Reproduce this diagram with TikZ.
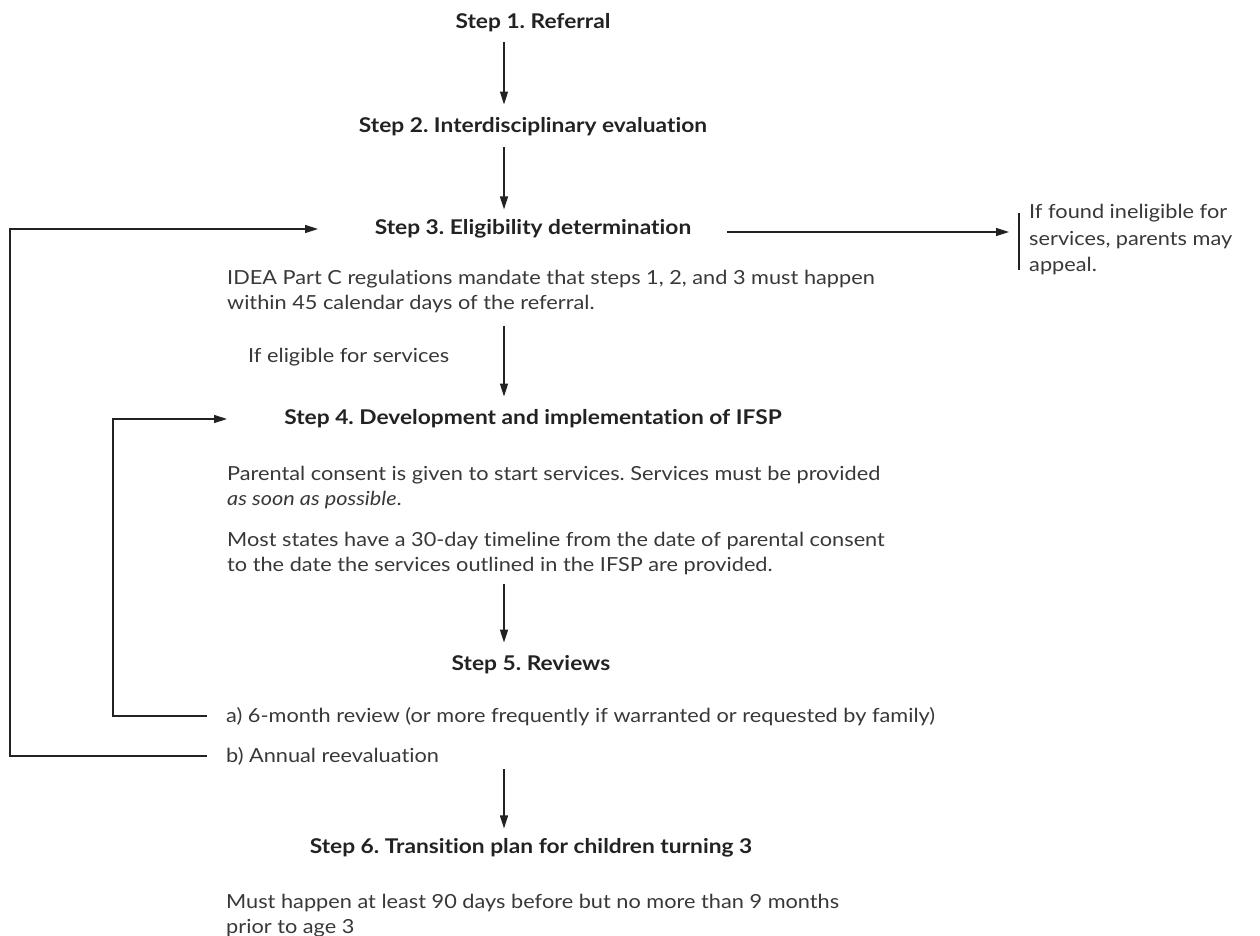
\documentclass[tikz,border=0pt]{standalone}
\usepackage{fontspec}
\setmainfont{Lato}[FakeStretch=1.12, Ligatures=NoCommon]
\usetikzlibrary{arrows.meta}
\definecolor{ink}{HTML}{222222}
\definecolor{bodyink}{HTML}{383838}
\begin{document}
\frenchspacing
\begin{tikzpicture}[x=1pt,y=-1pt,
  head/.style={font=\fontsize{20.3}{24}\selectfont\bfseries, inner sep=0pt, text=ink, anchor=center},
  body/.style={font=\fontsize{19.4}{25}\selectfont, inner sep=0pt, text=bodyink, align=left, anchor=west},
  side/.style={font=\fontsize{19.4}{26.5}\selectfont, inner sep=0pt, text=bodyink, align=left, anchor=west},
  conn/.style={line width=1.4pt, draw=ink, -{Triangle[length=13pt,width=8pt]}},
  plainline/.style={line width=1.4pt, draw=ink}]
\useasboundingbox (0,0) rectangle (1260,936);

% headings
\node[head] (s1) at (533,23) {Step 1. Referral};
\node[head] (s2) at (533,127) {Step 2. Interdisciplinary evaluation};
\node[head] (s3) at (533,229) {Step 3. Eligibility determination};
\node[head] (s4) at (533,419) {Step 4. Development and implementation of IFSP};
\node[head] (s5) at (531,665) {Step 5. Reviews};
\node[head] (s6) at (531,848) {Step 6. Transition plan for children turning 3};

% body texts
\node[body] (idea) at (227,292) {IDEA Part C regulations mandate that steps 1, 2, and 3 must happen\\within 45 calendar days of the referral.};
\node[body] (elig) at (248,357) {If eligible for services};
\node[body] (parent) at (227,488) {Parental consent is given to start services. Services must be provided\\\textit{as soon as possible}.};
\node[body] (most) at (227,554) {Most states have a 30-day timeline from the date of parental consent\\to the date the services outlined in the IFSP are provided.};
\node[body] (reva) at (226,717) {a) 6-month review (or more frequently if warranted or requested by family)};
\node[body] (revb) at (226,756) {b) Annual reevaluation};
\node[body] (must) at (226,916) {Must happen at least 90 days before but no more than 9 months\\prior to age 3};
\node[side] (inel) at (1029,240) {If found ineligible for\\services, parents may\\appeal.};

% helper coordinates
\coordinate (ax) at (504,0);
\coordinate (bar) at (1019,0);
\coordinate (in3) at (318,229);
\coordinate (in4) at (227,419);
\coordinate (lt) at (10,229);
\coordinate (mt) at (113,419);
\coordinate (ka) at (207,716);
\coordinate (kb) at (207,756);
\coordinate (r3) at (727,232);

% main vertical arrows
\draw[conn, shorten <=10pt, shorten >=13pt] (ax |- s1.south) -- (ax |- s2.north);
\draw[conn, shorten <=11pt, shorten >=10pt] (ax |- s2.south) -- (ax |- s3.north);
\draw[conn, shorten <=12pt, shorten >=13pt] (ax |- idea.south) -- (ax |- s4.north);
\draw[conn, shorten <=8pt, shorten >=13pt] (ax |- most.south) -- (ax |- s5.north);
\draw[conn, shorten <=4pt, shorten >=10pt] (ax |- revb.south) -- (ax |- s6.north);

% ineligible branch
\draw[conn] (r3) -- ([xshift=-10pt]bar |- r3);
\draw[plainline] ([yshift=-9pt]bar |- inel.north) -- ([yshift=6pt]bar |- inel.south);

% feedback loops
\draw[conn] (ka) -| (mt) -- (in4);
\draw[conn] (kb) -| (lt) -- (in3);
\end{tikzpicture}
\end{document}
